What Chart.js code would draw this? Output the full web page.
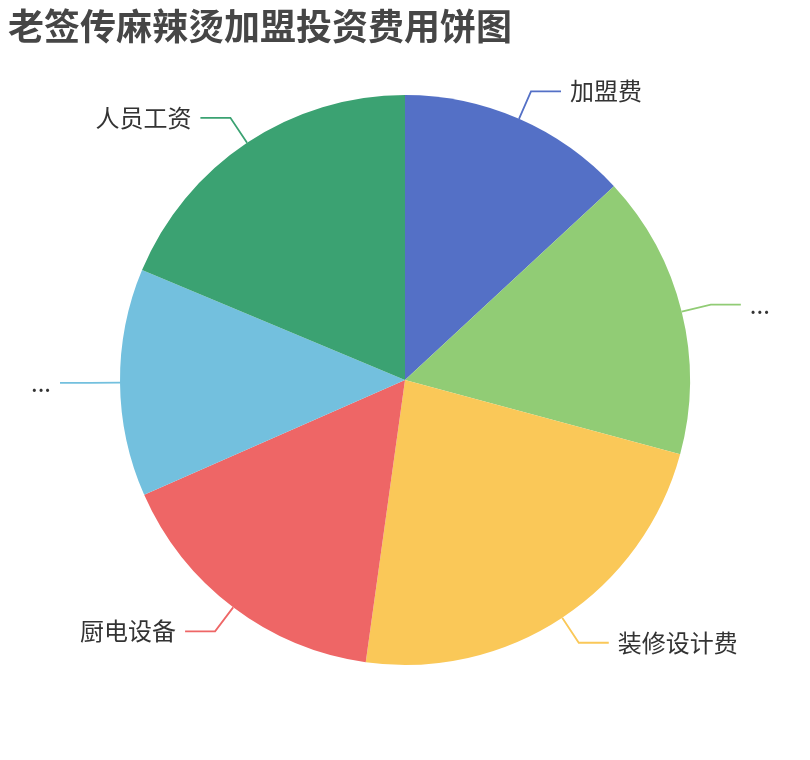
<!DOCTYPE html>
<html>
<head>
<meta charset="utf-8">
<title>老签传麻辣烫加盟投资费用饼图</title>
<script src="https://cdn.jsdelivr.net/npm/chart.js@4.4.1/dist/chart.umd.min.js"></script>
<style>
  html, body { margin: 0; padding: 0; background: #fff; }
  #wrap { width: 810px; height: 760px; position: relative; }
</style>
</head>
<body>
<div id="wrap"><canvas id="pieChart"></canvas></div>
<script>
// 数据
const chartTitle = "老签传麻辣烫加盟投资费用饼图";
const categories = ["加盟费", "店面租金", "装修设计费", "厨电设备", "首批物料", "人员工资"];
const values = [13.1, 16.1, 23.0, 16.2, 12.9, 18.7];
const colors = ["#5470c6", "#91cc75", "#fac858", "#ee6666", "#73c0de", "#3ba272"];

const FONT = '"Noto Sans CJK SC", "Noto Sans", sans-serif';

// 把放不下的标签截断成 "..."
function fitText(ctx, text, maxWidth) {
  if (ctx.measureText(text).width <= maxWidth) return text;
  let s = text;
  while (s.length > 0 && ctx.measureText(s + "...").width > maxWidth) {
    s = s.slice(0, -1);
  }
  return s + "...";
}

// 标题 + 外部标签和引导线
const outsideLabels = {
  id: "outsideLabels",
  afterDraw(chart) {
    const ctx = chart.ctx;
    const w = chart.width;

    ctx.save();
    ctx.fillStyle = "#464646";
    ctx.font = "bold 36px " + FONT;
    ctx.textAlign = "left";
    ctx.textBaseline = "middle";
    ctx.fillText(chartTitle, 8, 26);
    ctx.restore();

    const meta = chart.getDatasetMeta(0);
    meta.data.forEach((arc, i) => {
      const p = arc.getProps(["x", "y", "startAngle", "endAngle", "outerRadius"], true);
      const mid = (p.startAngle + p.endAngle) / 2;
      const cos = Math.cos(mid), sin = Math.sin(mid);
      const x0 = p.x + p.outerRadius * cos, y0 = p.y + p.outerRadius * sin;
      const x1 = p.x + (p.outerRadius + 30) * cos, y1 = p.y + (p.outerRadius + 30) * sin;
      const right = cos >= 0;
      const x2 = x1 + (right ? 30 : -30);

      ctx.save();
      ctx.strokeStyle = colors[i];
      ctx.lineWidth = 1.8;
      ctx.beginPath();
      ctx.moveTo(x0, y0);
      ctx.lineTo(x1, y1);
      ctx.lineTo(x2, y1);
      ctx.stroke();

      ctx.font = "24px " + FONT;
      ctx.fillStyle = "#333";
      ctx.textBaseline = "middle";
      const tx = x2 + (right ? 9 : -9);
      const avail = right ? w - tx - 25 : tx - 25;
      ctx.textAlign = right ? "left" : "right";
      ctx.fillText(fitText(ctx, categories[i], avail), tx, y1);
      ctx.restore();
    });
  }
};

new Chart(document.getElementById("pieChart"), {
  type: "pie",
  data: {
    labels: categories,
    datasets: [{
      data: values,
      backgroundColor: colors,
      borderWidth: 0
    }]
  },
  options: {
    responsive: true,
    maintainAspectRatio: false,
    animation: false,
    layout: { padding: { top: 95, bottom: 95, left: 120, right: 120 } },
    plugins: {
      legend: { display: false },
      tooltip: { enabled: false },
      title: { display: false }
    }
  },
  plugins: [outsideLabels]
});
</script>
</body>
</html>
